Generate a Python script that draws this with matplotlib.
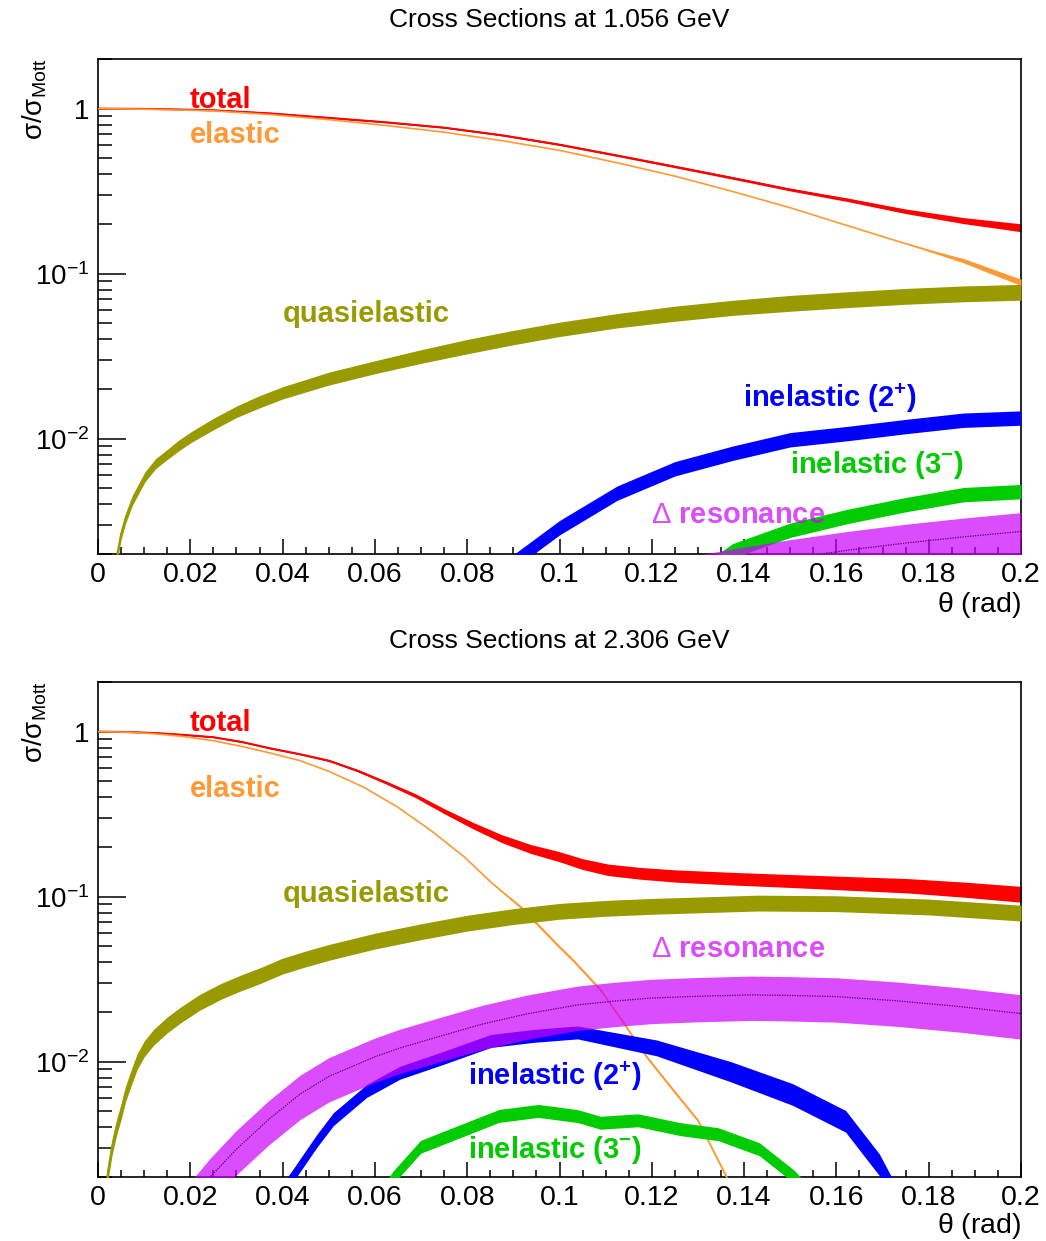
import matplotlib
matplotlib.use("Agg")
import matplotlib.pyplot as plt
from matplotlib.ticker import FixedLocator, LogLocator, FuncFormatter, MultipleLocator
import numpy as np

plt.rcParams['font.family'] = ['Liberation Sans', 'DejaVu Sans']
plt.rcParams['mathtext.fontset'] = 'custom'
plt.rcParams['mathtext.rm'] = 'Liberation Sans'
plt.rcParams['mathtext.it'] = 'Liberation Sans:italic'
plt.rcParams['mathtext.bf'] = 'Liberation Sans:bold'
plt.rcParams['mathtext.default'] = 'regular'

W, H = 1046, 1241

# ---------------- 1.056 GeV ----------------
th_a = [0, 0.0125, 0.025, 0.0375, 0.05, 0.0625, 0.075, 0.0875, 0.1, 0.1125,
        0.125, 0.1375, 0.15, 0.1625, 0.175, 0.1875, 0.2]
total_a = [1.0, 0.995, 0.977, 0.935, 0.879, 0.826, 0.767, 0.69, 0.605, 0.52,
           0.445, 0.38, 0.323, 0.28, 0.239, 0.21, 0.19]
total_a_err = [0, 0.001, 0.002, 0.003, 0.004, 0.005, 0.006, 0.008, 0.01, 0.012,
               0.014, 0.016, 0.018, 0.024, 0.032, 0.042, 0.055]
elastic_a = [1.0, 0.99, 0.97, 0.92, 0.858, 0.79, 0.72, 0.64, 0.559, 0.47,
             0.39, 0.315, 0.251, 0.195, 0.152, 0.12, 0.0886]
elastic_a_err = [0, 0, 0, 0, 0, 0, 0, 0, 0, 0, 0, 0, 0, 0, 0.002, 0.03, 0.045]

th_qe_a = [0.0035, 0.0042, 0.005, 0.006, 0.0075, 0.0102, 0.0125, 0.015, 0.0175,
           0.0203, 0.025, 0.03, 0.035, 0.0402, 0.05, 0.06, 0.07, 0.08, 0.09, 0.1,
           0.1125, 0.125, 0.1375, 0.15, 0.1625, 0.175, 0.1875, 0.2]
qe_a = [0.00141, 0.002, 0.00263, 0.00331, 0.00427, 0.0059, 0.00708, 0.00804, 0.00912,
        0.0103, 0.0123, 0.0146, 0.0168, 0.0191, 0.0232, 0.0272, 0.0316, 0.0363, 0.0412,
        0.0462, 0.0521, 0.0575, 0.0624, 0.0665, 0.07, 0.0733, 0.0759, 0.0776]
qe_a_err = [0.07, 0.07, 0.07, 0.07, 0.07, 0.07, 0.07, 0.07, 0.075, 0.075, 0.08, 0.08,
            0.085, 0.085, 0.09, 0.09, 0.095, 0.1, 0.1, 0.1, 0.1, 0.105, 0.105, 0.11,
            0.11, 0.11, 0.11, 0.11]

th_in_a = [0.075, 0.0875, 0.1, 0.1125, 0.125, 0.1375, 0.15, 0.1625, 0.175, 0.1875, 0.2]
in2_a = [0.0008, 0.0016, 0.0029, 0.0047, 0.0066, 0.0082, 0.0099, 0.0108, 0.0119, 0.013, 0.0134]
in2_a_err = [0.1] * len(th_in_a)
in3_a = [0.0002, 0.0004, 0.0006, 0.0009, 0.0012, 0.0021, 0.0028, 0.0034, 0.004, 0.0046, 0.0048]
in3_a_err = [0.1] * len(th_in_a)
delta_a = [0.0006, 0.0008, 0.001, 0.00122, 0.00143, 0.00165, 0.00188, 0.00211,
           0.00233, 0.00254, 0.00274]

# ---------------- 2.306 GeV ----------------
th_tot_b = [0, 0.00625, 0.0125, 0.01875, 0.025, 0.03125, 0.0375, 0.04375, 0.05,
            0.05625, 0.0625, 0.06875, 0.075, 0.08125, 0.0875, 0.09375, 0.1, 0.105,
            0.1105, 0.1175, 0.125, 0.1375, 0.15, 0.1625, 0.1755, 0.1875, 0.2]
total_b = [1.0, 0.995, 0.98, 0.955, 0.925, 0.865, 0.79, 0.73, 0.667,
           0.58, 0.49, 0.41, 0.33, 0.27, 0.225, 0.195, 0.175, 0.158,
           0.146, 0.139, 0.134, 0.129, 0.125, 0.121, 0.117, 0.111, 0.104]
total_b_err = [0, 0.001, 0.001, 0.002, 0.003, 0.004, 0.005, 0.007, 0.01,
               0.014, 0.02, 0.027, 0.035, 0.045, 0.055, 0.062, 0.07, 0.075,
               0.08, 0.082, 0.085, 0.088, 0.09, 0.095, 0.1, 0.105, 0.11]

th_el_b = [0, 0.00625, 0.0125, 0.01875, 0.025, 0.03125, 0.0375, 0.04375, 0.05, 0.0575,
           0.065, 0.0722, 0.0795, 0.0852, 0.0917, 0.0997, 0.103, 0.109, 0.114, 0.119,
           0.1245, 0.13, 0.1362, 0.14]
elastic_b = [1.0, 0.993, 0.97, 0.933, 0.881, 0.813, 0.74, 0.668, 0.575, 0.462,
             0.348, 0.251, 0.173, 0.122, 0.086, 0.0505, 0.041, 0.027, 0.017, 0.0106,
             0.0068, 0.0044, 0.002, 0.00126]
elastic_b_err = [0, 0, 0, 0, 0, 0, 0, 0, 0, 0,
                 0, 0, 0, 0.005, 0.02, 0.02, 0.02, 0.02, 0.02, 0.02,
                 0.02, 0.02, 0.02, 0.02]

th_qe_b = [0.0015, 0.002, 0.003, 0.004, 0.005, 0.006, 0.0075, 0.0085, 0.01, 0.012,
           0.015, 0.018, 0.022, 0.0267, 0.031, 0.035, 0.04, 0.045, 0.05, 0.06, 0.07,
           0.08, 0.09, 0.1, 0.11, 0.12, 0.143, 0.16, 0.18, 0.2]
qe_b = [0.0015, 0.002, 0.003, 0.004, 0.005, 0.00646, 0.0085, 0.0101, 0.012, 0.0141,
        0.0168, 0.0194, 0.023, 0.0269, 0.0302, 0.0333, 0.0382, 0.0422, 0.0462, 0.0541,
        0.0617, 0.0695, 0.0762, 0.082, 0.0855, 0.0879, 0.092, 0.0912, 0.0871, 0.08]
qe_b_err = [0.11] * len(th_qe_b)

th_in2_b = [0.038, 0.042, 0.0474, 0.051, 0.0582, 0.0654, 0.0749, 0.0851, 0.0945,
            0.1039, 0.121, 0.137, 0.1505, 0.162, 0.1693, 0.175]
in2_b = [0.0014, 0.002, 0.00332, 0.0045, 0.00667, 0.0086, 0.0106, 0.0134, 0.0144,
         0.0151, 0.0122, 0.0088, 0.0064, 0.0044, 0.0024, 0.0012]
in2_b_err = [0.09, 0.09, 0.09, 0.09, 0.09, 0.09, 0.09, 0.09, 0.09,
             0.09, 0.11, 0.14, 0.15, 0.15, 0.15, 0.15]

th_in3_b = [0.06, 0.064, 0.0699, 0.0869, 0.0954, 0.1039, 0.1089, 0.117, 0.1263,
            0.1344, 0.1433, 0.151, 0.155]
in3_b = [0.0014, 0.002, 0.00306, 0.00471, 0.00505, 0.0047, 0.00428, 0.00443,
         0.00391, 0.00365, 0.00296, 0.002, 0.0015]
in3_b_err = [0.09] * len(th_in3_b)

th_dl_b = [0.018, 0.021, 0.0243, 0.03, 0.037, 0.0438, 0.05, 0.055, 0.06, 0.0654,
           0.075, 0.0833, 0.093, 0.104, 0.112, 0.12, 0.13, 0.1415, 0.15, 0.16,
           0.173, 0.1865, 0.1998]
delta_b = [0.0012, 0.00155, 0.002, 0.00295, 0.00447, 0.00637, 0.00813, 0.00933, 0.0107,
           0.0121, 0.0145, 0.0169, 0.0195, 0.0221, 0.0233, 0.0243, 0.0249, 0.0254,
           0.0252, 0.0248, 0.0234, 0.0216, 0.0196]

RED = '#ff0000'
ORANGE = '#ff9933'
OLIVE = '#999900'
BLUE = '#0000ff'
GREEN = '#00cc00'
MAGENTA = '#cc00ff'


def band(ax, x, y, err, color, z, lw=1.5, alpha=1.0, line=None, ls='-'):
    x = np.asarray(x)
    y = np.asarray(y)
    e = np.asarray(err)
    if line is not None:
        ax.plot(x, y, color=line, lw=0.9, ls=ls, zorder=z + 0.5 if alpha < 1 else z - 0.5)
    ax.fill_between(x, y * (1 - e), y * (1 + e), color=color, lw=0,
                    alpha=alpha, zorder=z)
    ax.plot(x, y, color=color, lw=lw, alpha=alpha, zorder=z,
            solid_capstyle='butt')


def fmt_y(v, pos):
    if abs(v - 1) < 1e-9:
        return '1'
    return r'$10^{%d}$' % int(round(np.log10(v)))


def style(ax):
    ax.set_yscale('log')
    ax.set_xlim(0, 0.2)
    ax.set_ylim(0.002, 2)
    ax.xaxis.set_major_locator(MultipleLocator(0.02))
    ax.xaxis.set_minor_locator(MultipleLocator(0.005))
    ax.xaxis.set_major_formatter(FuncFormatter(lambda v, p: '%g' % round(v, 3)))
    ax.yaxis.set_major_locator(FixedLocator([0.01, 0.1, 1]))
    ax.yaxis.set_minor_locator(LogLocator(base=10, subs=np.arange(2, 10)))
    ax.yaxis.set_major_formatter(FuncFormatter(fmt_y))
    ax.yaxis.set_minor_formatter(FuncFormatter(lambda v, p: ''))
    ax.tick_params(axis='x', which='major', direction='in', length=10.8, width=1.1,
                   labelsize=20.5, pad=6, top=False)
    ax.tick_params(axis='x', which='minor', direction='in', length=5.4, width=1.1, top=False)
    ax.tick_params(axis='y', which='major', direction='in', length=20, width=1.1,
                   labelsize=20, pad=6, right=False)
    ax.tick_params(axis='y', which='minor', direction='in', length=10, width=1.1, right=False)
    for s in ax.spines.values():
        s.set_linewidth(1.2)


def fx(px):
    return px / W


def fy(py):
    return 1 - py / H


fig = plt.figure(figsize=(W / 100, H / 100), dpi=100)
ax1 = fig.add_axes([fx(98), fy(554), fx(1021) - fx(98), fy(59) - fy(554)])
ax2 = fig.add_axes([fx(98), fy(1177), fx(1021) - fx(98), fy(682) - fy(1177)])

# top panel
band(ax1, th_a, total_a, total_a_err, RED, 2, line='#202020')
band(ax1, th_a, elastic_a, elastic_a_err, ORANGE, 3, lw=1.2)
band(ax1, th_qe_a, qe_a, qe_a_err, OLIVE, 4)
band(ax1, th_in_a, in2_a, in2_a_err, BLUE, 5)
band(ax1, th_in_a, in3_a, in3_a_err, GREEN, 6)
band(ax1, th_in_a, delta_a, [0.3] * len(th_in_a), MAGENTA, 7, lw=0, alpha=0.7,
     line='#4a0060', ls=(0, (1, 1)))

# bottom panel
band(ax2, th_tot_b, total_b, total_b_err, RED, 2, line='#202020')
band(ax2, th_el_b, elastic_b, elastic_b_err, ORANGE, 3, lw=1.2)
band(ax2, th_qe_b, qe_b, qe_b_err, OLIVE, 4)
band(ax2, th_in2_b, in2_b, in2_b_err, BLUE, 5)
band(ax2, th_in3_b, in3_b, in3_b_err, GREEN, 6)
band(ax2, th_dl_b, delta_b, [0.3] * len(th_dl_b), MAGENTA, 7, lw=0, alpha=0.7,
     line='#4a0060', ls=(0, (1, 1)))

for ax in (ax1, ax2):
    style(ax)

# titles and axis titles
fig.text(fx(559), fy(20), 'Cross Sections at 1.056 GeV', ha='center', va='center', fontsize=19)
fig.text(fx(559), fy(641), 'Cross Sections at 2.306 GeV', ha='center', va='center', fontsize=19)
for yb, yt in ((605, 58), (1226, 681)):
    fig.text(fx(1021), fy(yb), r'$\theta$ (rad)', ha='right', va='center', fontsize=20.5)
    fig.text(fx(35), fy(yt), r'$\sigma/\sigma_{Mott}$', ha='center', va='top',
             rotation=90, fontsize=20)

# curve labels (left x, baseline y in pixels)
d_lab = r'$\mathrm{\Delta}$ resonance'
labels_a = [('total', 190, 108, RED, 1), ('elastic', 190, 143, ORANGE, 1),
            ('quasielastic', 283, 322, OLIVE, 1),
            (r'inelastic (2$^{\mathbf{+}}$)', 743, 407, BLUE, 1),
            (r'inelastic (3$^{\mathbf{-}}$)', 790, 473, GREEN, 1),
            (d_lab, 651, 523, MAGENTA, 0.7)]
labels_b = [('total', 190, 731, RED, 1), ('elastic', 190, 797, ORANGE, 1),
            ('quasielastic', 283, 902, OLIVE, 1),
            (d_lab, 651, 957, MAGENTA, 0.7),
            (r'inelastic (2$^{\mathbf{+}}$)', 468, 1085, BLUE, 1),
            (r'inelastic (3$^{\mathbf{-}}$)', 468, 1158, GREEN, 1)]
for txt, px, py, c, a in labels_a + labels_b:
    fig.text(fx(px), fy(py), txt, ha='left', va='baseline', fontsize=21,
             fontweight='bold', color=c, alpha=a, zorder=10)

fig.savefig('out.png', dpi=100)
